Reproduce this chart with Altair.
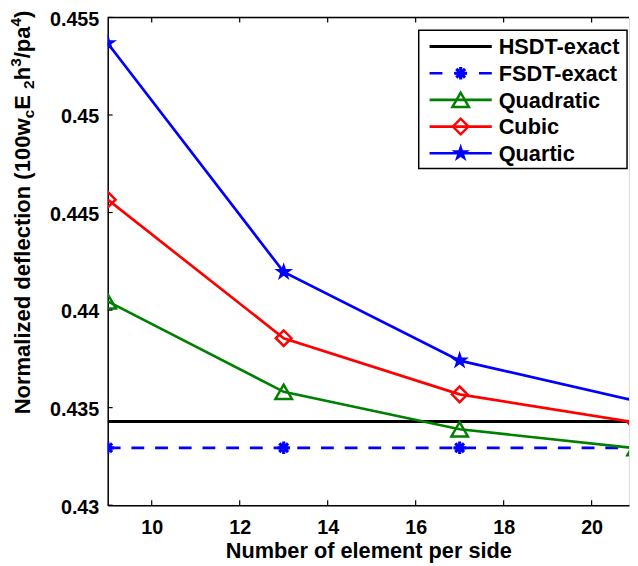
import altair as alt
import pandas as pd

# ---- data ----
elements = [9, 13, 17, 21]
hsdt_exact = 0.43429
fsdt_exact = 0.43294
quadratic = [0.44045, 0.43581, 0.43389, 0.43292]
cubic = [0.44566, 0.43856, 0.43568, 0.43424]
quartic = [0.45368, 0.44195, 0.43741, 0.43535]
series_names = ["HSDT-exact", "FSDT-exact", "Quadratic", "Cubic", "Quartic"]
x_ticks = [10, 12, 14, 16, 18, 20]
y_ticks = [0.43, 0.435, 0.44, 0.445, 0.45, 0.455]
x_title = "Number of element per side"

# ---- layout / style ----
W, H = 528, 494
FONT = "Liberation Sans"
BLUE, GREEN, RED, BLACK = "#0000ff", "#008000", "#ff0000", "#000000"
LW = 2.7
ASTERISK = "M0,-1L0,1M-1,0L1,0M-0.7,-0.7L0.7,0.7M-0.7,0.7L0.7,-0.7"
STAR = ("M0,-1L0.2245,-0.309L0.951,-0.309L0.363,0.118L0.588,0.809L0,0.382"
        "L-0.588,0.809L-0.363,0.118L-0.951,-0.309L-0.2245,-0.309Z")

xscale = alt.Scale(domain=[9, 20.85], nice=False, zero=False)
yscale = alt.Scale(domain=[0.43, 0.455], nice=False, zero=False)

xaxis = alt.Axis(values=x_ticks, format="d", tickSize=0, grid=False,
                 domainColor=BLACK, domainWidth=1.5,
                 labelFont=FONT, labelFontSize=20, labelFontWeight="bold",
                 labelColor=BLACK, labelPadding=13,
                 titleFont=FONT, titleFontSize=22, titleFontWeight="bold",
                 titleColor=BLACK, titlePadding=3)
yaxis = alt.Axis(values=y_ticks, format=".3~f", tickSize=0, grid=False,
                 domainColor=BLACK, domainWidth=1.5,
                 labelFont=FONT, labelFontSize=20, labelFontWeight="bold",
                 labelColor=BLACK, labelPadding=9, labelOffset=2)

def xenc():
    return alt.X("x:Q", scale=xscale, axis=xaxis, title=x_title)

def yenc():
    return alt.Y("y:Q", scale=yscale, axis=yaxis, title="")

layers = []

# HSDT exact (solid black)
df_h = pd.DataFrame({"x": elements, "y": [hsdt_exact] * len(elements)})
layers.append(alt.Chart(df_h).mark_line(color=BLACK, strokeWidth=3, clip=True)
              .encode(x=xenc(), y=yenc()))

# FSDT exact (dashed blue with asterisks)
df_f = pd.DataFrame({"x": elements, "y": [fsdt_exact] * len(elements)})
layers.append(alt.Chart(df_f).mark_line(color=BLUE, strokeWidth=LW, strokeDash=[13, 11], clip=True)
              .encode(x=xenc(), y=yenc()))
layers.append(alt.Chart(df_f).mark_point(shape=ASTERISK, size=160, filled=False, color=BLUE,
                                          strokeWidth=3.2, opacity=1, clip=True)
              .encode(x=xenc(), y=yenc()))

series = [
    (quadratic, GREEN, "triangle-up", 280, False),
    (cubic, RED, "diamond", 250, False),
    (quartic, BLUE, STAR, 390, True),
]
for vals, col, shp, sz, filled in series:
    df = pd.DataFrame({"x": elements, "y": vals})
    layers.append(alt.Chart(df).mark_line(color=col, strokeWidth=LW, clip=True)
                  .encode(x=xenc(), y=yenc()))
    layers.append(alt.Chart(df).mark_point(shape=shp, size=sz, filled=filled, color=col,
                                            strokeWidth=2.5, opacity=1, clip=True)
                  .encode(x=xenc(), y=yenc()))

# inward ticks (bottom, top, left) and top border
df_xt = pd.DataFrame({"x": x_ticks})
df_yt = pd.DataFrame({"y": y_ticks})
layers.append(alt.Chart(df_xt).mark_rule(color=BLACK, strokeWidth=1.2)
              .encode(x=xenc(), y=alt.value(H), y2=alt.value(H - 5)))
layers.append(alt.Chart(df_xt).mark_rule(color=BLACK, strokeWidth=1.2)
              .encode(x=xenc(), y=alt.value(0), y2=alt.value(5)))
layers.append(alt.Chart(df_yt).mark_rule(color=BLACK, strokeWidth=1.2)
              .encode(y=yenc(), x=alt.value(0), x2=alt.value(5)))
one = pd.DataFrame({"a": [0]})
layers.append(alt.Chart(one).mark_rule(color=BLACK, strokeWidth=1.5)
              .encode(x=alt.value(0), x2=alt.value(W), y=alt.value(0)))

# ---- legend (drawn by hand) ----
LX0, LX1, LY0, LY1 = 315, 526, 13, 153
layers.append(alt.Chart(one).mark_rect(fill="white", stroke=BLACK, strokeWidth=1.5)
              .encode(x=alt.value(LX0), x2=alt.value(LX1), y=alt.value(LY0), y2=alt.value(LY1)))
leg_style = [
    (BLACK, None, None, 0, False, 3, None),
    (BLUE, ASTERISK, 160, 3.2, False, LW, [13, 12]),
    (GREEN, "triangle-up", 280, 2.5, False, LW, None),
    (RED, "diamond", 250, 2.5, False, LW, None),
    (BLUE, STAR, 390, 2.5, True, LW, None),
]
for i, (name, st) in enumerate(zip(series_names, leg_style)):
    col, shp, sz, sw, filled, lw, dash = st
    yy = 29.5 + 27 * i
    rule_kw = dict(color=col, strokeWidth=lw)
    if dash:
        rule_kw["strokeDash"] = dash
    layers.append(alt.Chart(one).mark_rule(**rule_kw)
                  .encode(x=alt.value(326), x2=alt.value(389), y=alt.value(yy)))
    if shp:
        layers.append(alt.Chart(one).mark_point(shape=shp, size=sz, filled=filled, color=col,
                                                 strokeWidth=sw, opacity=1)
                      .encode(x=alt.value(357.5), y=alt.value(yy)))
    layers.append(alt.Chart(one).mark_text(text=name, font=FONT, fontSize=22, fontWeight="bold",
                                            color=BLACK, align="left", baseline="middle")
                  .encode(x=alt.value(396), y=alt.value(yy + 1)))

# ---- y title with sub/superscripts (rotated pieces) ----
TFS = 22.3
pieces = [
    ("Normalized deflection (100w", 13.448, "n"),
    ("c", 0.556, "sub"),
    (" E", 0.945, "n"),
    ("2", 0.556, "sub"),
    ("h", 0.611, "n"),
    ("3", 0.556, "sup"),
    ("/pa", 1.445, "n"),
    ("4", 0.556, "sup"),
    (")", 0.333, "n"),
]
TX = -86
pos = 402.0
for txt, em, kind in pieces:
    fs = TFS if kind == "n" else TFS * 0.7
    dx = 0 if kind == "n" else (6 if kind == "sub" else -7)
    layers.append(alt.Chart(one).mark_text(text=txt, font=FONT, fontSize=fs, fontWeight="bold",
                                            color=BLACK, align="left", baseline="middle", angle=270)
                  .encode(x=alt.value(TX + dx), y=alt.value(pos)))
    pos -= em * fs

chart = (alt.layer(*layers)
         .properties(width=W, height=H,
                     autosize=alt.AutoSizeParams(type="none"),
                     padding={"left": 101, "top": 6, "right": 1, "bottom": 56})
         .configure_view(stroke="transparent")
         .configure(background="white"))

chart.save("out.html", embed_options={"renderer": "svg", "actions": False})
